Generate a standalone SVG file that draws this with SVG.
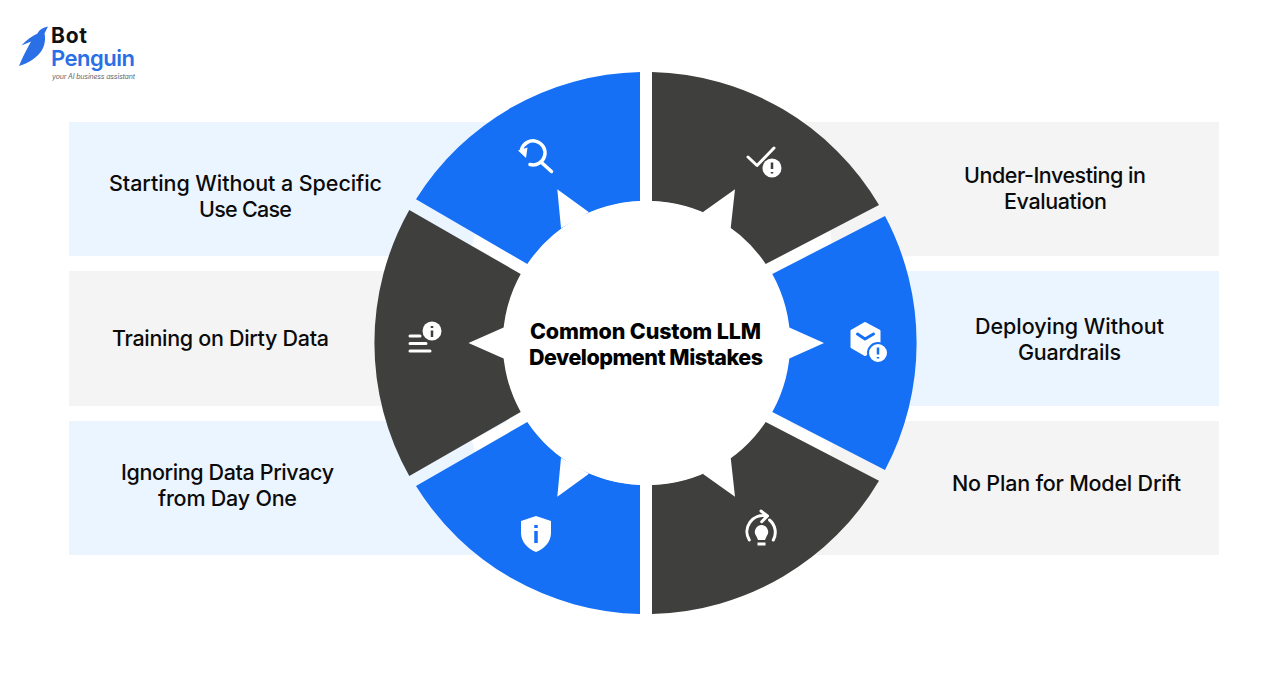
<svg xmlns="http://www.w3.org/2000/svg" width="1288" height="686" viewBox="0 0 1288 686">
<style>
text{font-family:"Inter","Liberation Sans",sans-serif}
.l{font-size:21.5px;font-weight:500;fill:#0b0b0b}
.t{font-size:21.5px;font-weight:800;fill:#000}
.lb{fill:#EBF5FF}.gr{fill:#F4F4F4}
.b{fill:#1570F6}.d{fill:#3F3F3D}
.w{fill:#fff}
.sw{fill:none;stroke:#fff;stroke-width:3;stroke-linecap:round;stroke-linejoin:round}
</style>
<rect width="1288" height="686" fill="#fff"/>
<g id="logo">
<path d="M48 26.500C43 27.500 39 30 37.500 33.500C32 36 26 40 21.500 45.500L31 41.500C27 49 22.500 57 19 66C29 63 38 57 42 50C45.500 44 45.500 37 44.500 33.500Z" fill="#2B6FE6"/>
<text x="51" y="43" font-size="21" font-weight="700" fill="#111" textLength="36">Bot</text>
<text x="51" y="66" font-size="22" font-weight="600" fill="#2B6FE6" textLength="84">Penguin</text>
<text x="52" y="79" font-size="7" font-style="italic" fill="#666" textLength="83">your AI business assistant</text>
</g>
<g id="band-1"><rect class="lb" x="69" y="122" width="440" height="134"/><text class="l" x="109" y="191" textLength="273">Starting Without a Specific</text><text class="l" x="199" y="217" textLength="93">Use Case</text></g>
<g id="band-2"><rect class="gr" x="69" y="271" width="406" height="135"/><text class="l" x="112" y="346" textLength="217">Training on Dirty Data</text></g>
<g id="band-3"><rect class="lb" x="69" y="421" width="440" height="134"/><text class="l" x="121" y="480" textLength="213">Ignoring Data Privacy</text><text class="l" x="158" y="506" textLength="139">from Day One</text></g>
<g id="band-4"><rect class="gr" x="790" y="122" width="429" height="134"/><text class="l" x="964" y="183" textLength="182">Under-Investing in</text><text class="l" x="1004" y="209" textLength="103">Evaluation</text></g>
<g id="band-5"><rect class="lb" x="829" y="271" width="390" height="135"/><text class="l" x="975" y="334" textLength="189">Deploying Without</text><text class="l" x="1018" y="360" textLength="103">Guardrails</text></g>
<g id="band-6"><rect class="gr" x="790" y="421" width="429" height="134"/><text class="l" x="952" y="491" textLength="229">No Plan for Model Drift</text></g>
<g id="gaps">
<path class="w" d="M475 233L530 264V276L472 246ZM830 230.500L762 266V276L832 243.500ZM830 455.500L762 420V410L832 442.500ZM475 453L530 422V410L472 440Z"/>
</g>
<g id="segment-1">
<path class="b" d="M640 72A271 271 0 0 0 416 199.300L527.300 264A142 142 0 0 1 640 201Z"/>
<path class="sw" style="stroke-width:3.500" d="M521.500 149.500A12 12 0 1 1 530 164.500M541.500 162.500L551.500 171.500"/>
<path class="w" d="M518 150.500L527.500 147.500L526 158Z"/>
</g>
<g id="segment-2">
<path class="d" d="M652 72A271 271 0 0 1 879 205L765.700 264A142 142 0 0 0 652 201Z"/>
<path class="sw" d="M748 157L757 165.500L774 148"/>
<circle class="w" cx="772" cy="168" r="9.500"/>
<path d="M772 162.500V169M772 172V173.500" fill="none" stroke="#3F3F3D" stroke-width="2.500"/>
</g>
<g id="segment-3">
<path class="b" d="M885 216A271 271 0 0 1 885 470L772.300 412A142 142 0 0 0 772.300 274Z"/>
<path class="w" stroke="#fff" stroke-width="3" stroke-linejoin="round" d="M865 323.500L879 331V347L865 354.500L852 347V331Z"/>
<path d="M857.500 334L865 339L873.500 334" fill="none" stroke="#1570F6" stroke-width="3" stroke-linejoin="round" stroke-linecap="round"/>
<circle class="w" cx="878" cy="353" r="10" stroke="#1570F6" stroke-width="2"/>
<path d="M878 347.500V354.500M878 357V358.500" fill="none" stroke="#1570F6" stroke-width="2.500"/>
</g>
<g id="segment-4">
<path class="d" d="M652 614A271 271 0 0 0 879 480.700L765.700 422A142 142 0 0 1 652 485Z"/>
<path class="sw" d="M749.300 540A16 16 0 0 1 766.500 516M761 511L767.500 516L761.700 521.700M769.500 520A16 16 0 0 1 773.300 540"/>
<path class="w" d="M762 525A7 7 0 0 1 766.500 536.500L765 540H758L756.500 536.500A7 7 0 0 1 762 525Z"/>
<rect class="w" x="757.500" y="542.500" width="8" height="3"/>
</g>
<g id="segment-5">
<path class="b" d="M640 614A271 271 0 0 1 416 486L527.300 422A142 142 0 0 0 640 485Z"/>
<path class="w" d="M536 516L551 521V533C551 542 544 549 536 552C528 549 521 542 521 533V521Z"/>
<path d="M536 525V528M536 531V543" fill="none" stroke="#1570F6" stroke-width="3.500"/>
</g>
<g id="segment-6">
<path class="d" d="M409.300 210A271 271 0 0 0 409.300 476L520.700 412A142 142 0 0 1 520.700 274Z"/>
<path class="sw" d="M410 336H420M410 343.500H426M410 351H430"/>
<circle class="w" cx="432" cy="331" r="9.500"/>
<path d="M432 326V328M432 330.500V337" fill="none" stroke="#3F3F3D" stroke-width="2.500"/>
</g>
<g id="centre">
<circle class="w" cx="646" cy="343" r="142"/>
<path class="w" d="M557.300 189.300L589 212.300L561 228.300ZM735 189.300L702.700 212.300L730.700 228.300ZM468.500 343L507 326V360ZM824 343L786 326V360ZM557.300 496.700L589 473.700L561 457.700ZM735 496.700L702.700 473.700L730.700 457.700Z"/>
<text class="t" x="530" y="339" textLength="231">Common Custom LLM</text>
<text class="t" x="529" y="365" textLength="234">Development Mistakes</text>
</g>
</svg>
